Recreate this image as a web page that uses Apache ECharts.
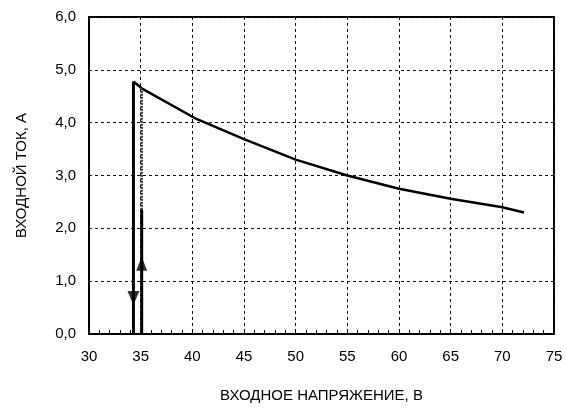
<!DOCTYPE html>
<html><head><meta charset="utf-8">
<script src="https://cdn.jsdelivr.net/npm/echarts@6/dist/echarts.min.js"></script>
<style>html,body{margin:0;padding:0;background:#fff}#c{width:566px;height:413px}</style>
</head><body><div id="c"></div>
<script>
var xTicks = [30, 35, 40, 45, 50, 55, 60, 65, 70, 75];
var yTicks = [0, 1, 2, 3, 4, 5, 6];
var curveX = [34.3, 35.1, 40.4, 45, 50, 55, 60, 65, 70, 72.1];
var curveY = [4.78, 4.65, 4.07, 3.69, 3.30, 3.00, 2.75, 2.56, 2.40, 2.30];
var downLineX = [34.3, 34.3];
var downLineY = [4.78, 0];
var upSolidX = [35.1, 35.1];
var upSolidY = [0, 2.35];
var upDottedX = [35.1, 35.1];
var upDottedY = [2.35, 4.65];
var arrowDown = [34.3, 0.68];
var arrowUp = [35.1, 1.33];

function zip(a, b) { return a.map(function (v, i) { return [v, b[i]]; }); }
var font = '"Liberation Sans", Arial, sans-serif';
var chart = echarts.init(document.getElementById('c'));
chart.setOption({
  animation: false,
  backgroundColor: '#fff',
  grid: { left: 89, right: 12, top: 17, bottom: 79, show: true, borderColor: '#000', borderWidth: 2 },
  xAxis: {
    type: 'value', min: xTicks[0], max: xTicks[xTicks.length - 1], interval: 5,
    name: 'ВХОДНОЕ НАПРЯЖЕНИЕ, В', nameLocation: 'middle', nameGap: 54,
    nameTextStyle: { color: '#000', fontSize: 15, fontFamily: font },
    axisLine: { show: true, lineStyle: { color: '#000', width: 2 } },
    axisTick: { show: true, inside: true, length: 4, lineStyle: { color: '#000' } },
    minorTick: { show: true, splitNumber: 5, length: 4, lineStyle: { color: '#000' } },
    axisLabel: { color: '#000', fontSize: 15, fontFamily: font, margin: 15 },
    splitLine: { show: true, lineStyle: { color: '#111', type: [3, 3], width: 1 } }
  },
  yAxis: {
    type: 'value', min: yTicks[0], max: yTicks[yTicks.length - 1], interval: 1,
    name: 'ВХОДНОЙ ТОК, А', nameLocation: 'middle', nameGap: 60,
    nameTextStyle: { color: '#000', fontSize: 15, fontFamily: font },
    axisLine: { show: true, lineStyle: { color: '#000', width: 2 } },
    axisTick: { show: false },
    axisLabel: { color: '#000', fontSize: 15, fontFamily: font, margin: 13,
      formatter: function (v) { return v.toFixed(1).replace('.', ','); } },
    splitLine: { show: true, lineStyle: { color: '#111', type: [3, 3], width: 1 } }
  },
  series: [
    { type: 'line', data: zip(curveX, curveY), symbol: 'none', lineStyle: { color: '#000', width: 2.5 } },
    { type: 'line', data: zip(downLineX, downLineY), symbol: 'none', lineStyle: { color: '#000', width: 3 } },
    { type: 'line', data: zip(upSolidX, upSolidY), symbol: 'none', lineStyle: { color: '#000', width: 3 } },
    { type: 'line', data: zip(upDottedX, upDottedY), symbol: 'none', lineStyle: { color: '#333', width: 2.5, type: [2, 1] } },
    { type: 'scatter', data: [arrowDown], symbol: 'triangle', symbolRotate: 180, symbolSize: [12, 14], itemStyle: { color: '#000' } },
    { type: 'scatter', data: [arrowUp], symbol: 'triangle', symbolSize: [11, 14], itemStyle: { color: '#000' } }
  ]
});
</script></body></html>
